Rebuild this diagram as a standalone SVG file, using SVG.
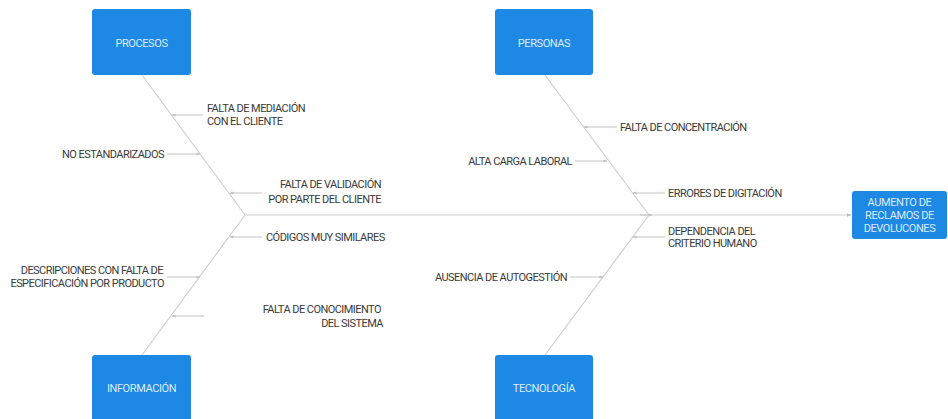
<svg xmlns="http://www.w3.org/2000/svg" width="948" height="419" viewBox="0 0 948 419">
<defs>
<marker id="ah" viewBox="0 0 10 10" refX="9" refY="5" markerWidth="5" markerHeight="5" orient="auto" markerUnits="userSpaceOnUse">
<path d="M0,1 L10,5 L0,9 z" fill="#bdbdbd"/>
</marker>
<marker id="ahs" viewBox="0 0 10 10" refX="9" refY="5" markerWidth="4" markerHeight="4" orient="auto" markerUnits="userSpaceOnUse">
<path d="M0,1 L10,5 L0,9 z" fill="#c4c4c4"/>
</marker>
</defs>
<style>
.box{fill:#1e88e5;}
.bt{font-family:Roboto,"Liberation Sans",sans-serif;font-size:11px;fill:#dcecfb;text-anchor:middle;letter-spacing:-0.4px;}
.t{font-family:Roboto,"Liberation Sans",sans-serif;font-size:11px;fill:#3a3a3a;letter-spacing:-0.55px;}
.r{text-anchor:end;}
.ln{stroke:#cfcfcf;stroke-width:1.2;fill:none;}
.sb{stroke:#c4c4c4;stroke-width:1;fill:none;marker-end:url(#ahs);}
</style>
<rect width="948" height="419" fill="#ffffff"/>
<g id="connectors">
<line class="ln" x1="245" y1="215" x2="851" y2="215" marker-end="url(#ah)"/>
<line class="ln" x1="142" y1="75" x2="245" y2="215"/>
<line class="ln" x1="142" y1="355" x2="245" y2="215"/>
<line class="ln" x1="545" y1="75" x2="649" y2="215"/>
<line class="ln" x1="545" y1="355" x2="649" y2="215"/>
<line class="sb" x1="203" y1="115" x2="172" y2="115"/>
<line class="sb" x1="167" y1="154" x2="200" y2="154"/>
<line class="sb" x1="262" y1="193" x2="230" y2="193"/>
<line class="sb" x1="262" y1="237" x2="230" y2="237"/>
<line class="sb" x1="167" y1="277" x2="200" y2="277"/>
<line class="sb" x1="204" y1="316" x2="172" y2="316"/>
<line class="sb" x1="617" y1="127" x2="584" y2="127"/>
<line class="sb" x1="575" y1="161" x2="607" y2="161"/>
<line class="sb" x1="665" y1="193" x2="633" y2="193"/>
<line class="sb" x1="665" y1="237" x2="633" y2="237"/>
<line class="sb" x1="570" y1="277" x2="603" y2="277"/>
<line class="sb" x1="640" y1="215" x2="652" y2="215"/>
</g>
<g id="procesos">
<rect class="box" x="92" y="9" width="99" height="66" rx="3"/>
<text class="bt" x="141.5" y="47">PROCESOS</text>
</g>
<g id="personas">
<rect class="box" x="495" y="9" width="98" height="66" rx="3"/>
<text class="bt" x="544" y="47">PERSONAS</text>
</g>
<g id="informacion">
<rect class="box" x="92" y="355" width="99" height="68" rx="3"/>
<text class="bt" x="141.5" y="392">INFORMACIÓN</text>
</g>
<g id="tecnologia">
<rect class="box" x="495" y="355" width="98" height="68" rx="3"/>
<text class="bt" x="544" y="392">TECNOLOGÍA</text>
</g>
<g id="efecto">
<rect class="box" x="852" y="191" width="95" height="48" rx="3"/>
<text class="bt" x="899.5" y="206">AUMENTO DE</text>
<text class="bt" x="899.5" y="219">RECLAMOS DE</text>
<text class="bt" x="899.5" y="232">DEVOLUCONES</text>
</g>
<g id="c-mediacion">
<text class="t" x="207" y="112">FALTA DE MEDIACIÓN</text>
<text class="t" x="207" y="125">CON EL CLIENTE</text>
</g>
<g id="c-noestandar">
<text class="t r" x="164" y="158">NO ESTANDARIZADOS</text>
</g>
<g id="c-validacion">
<text class="t r" x="381" y="188">FALTA DE VALIDACIÓN</text>
<text class="t r" x="381" y="203">POR PARTE DEL CLIENTE</text>
</g>
<g id="c-codigos">
<text class="t" x="266" y="241">CÓDIGOS MUY SIMILARES</text>
</g>
<g id="c-descripciones">
<text class="t r" x="163" y="274">DESCRIPCIONES CON FALTA DE</text>
<text class="t r" x="164" y="287">ESPECIFICACIÓN POR PRODUCTO</text>
</g>
<g id="c-conocimiento">
<text class="t r" x="381" y="313">FALTA DE CONOCIMIENTO</text>
<text class="t r" x="383" y="327">DEL SISTEMA</text>
</g>
<g id="c-concentracion">
<text class="t" x="620" y="131">FALTA DE CONCENTRACIÓN</text>
</g>
<g id="c-carga">
<text class="t r" x="572" y="165">ALTA CARGA LABORAL</text>
</g>
<g id="c-errores">
<text class="t" x="668" y="197">ERRORES DE DIGITACIÓN</text>
</g>
<g id="c-dependencia">
<text class="t" x="668" y="235">DEPENDENCIA DEL</text>
<text class="t" x="668" y="247">CRITERIO HUMANO</text>
</g>
<g id="c-ausencia">
<text class="t r" x="567" y="281">AUSENCIA DE AUTOGESTIÓN</text>
</g>
</svg>
